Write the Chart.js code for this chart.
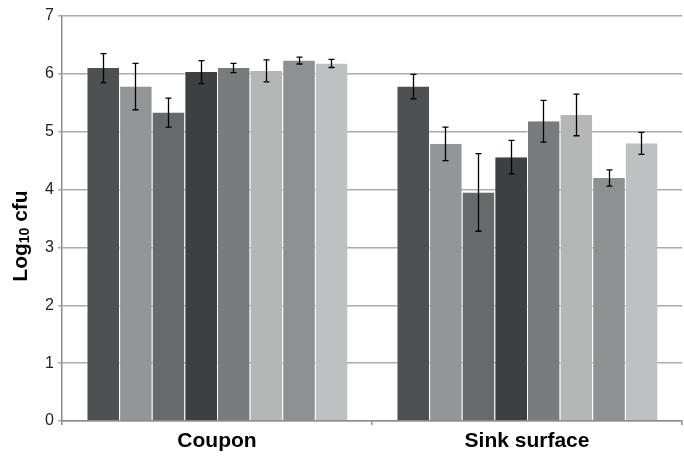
<!DOCTYPE html>
<html>
<head>
<meta charset="utf-8">
<script src="https://cdn.jsdelivr.net/npm/chart.js@4/dist/chart.umd.min.js"></script>
<style>
  html, body { margin: 0; padding: 0; background: #fff; }
  #wrap { width: 684px; height: 461px; position: relative; }
</style>
</head>
<body>
<div id="wrap"><canvas id="c" width="684" height="461"></canvas></div>
<script>
// ---- data ----
const categories = ["Coupon", "Sink surface"];
const seriesNames = ["Series 1", "Series 2", "Series 3", "Series 4", "Series 5", "Series 6", "Series 7", "Series 8"];
const s1 = [6.10, 5.78];
const s2 = [5.78, 4.79];
const s3 = [5.33, 3.95];
const s4 = [6.03, 4.56];
const s5 = [6.10, 5.18];
const s6 = [6.05, 5.29];
const s7 = [6.23, 4.20];
const s8 = [6.18, 4.80];
const e1 = [0.25, 0.21];
const e2 = [0.40, 0.29];
const e3 = [0.25, 0.67];
const e4 = [0.20, 0.29];
const e5 = [0.08, 0.36];
const e6 = [0.19, 0.36];
const e7 = [0.06, 0.14];
const e8 = [0.07, 0.19];
const yTicks = [0, 1, 2, 3, 4, 5, 6, 7];

const seriesValues = [s1, s2, s3, s4, s5, s6, s7, s8];
const seriesErrors = [e1, e2, e3, e4, e5, e6, e7, e8];
const colors = ["#4d5152", "#939696", "#676a6b", "#3d4043", "#797c7c", "#b5b7b6", "#8f9091", "#bec1c1"];

const FONT = "'Liberation Sans', Arial, Helvetica, sans-serif";

const errorBarPlugin = {
  id: 'errorBars',
  afterDatasetsDraw(chart) {
    const ctx = chart.ctx;
    const y = chart.scales.y;
    ctx.save();
    ctx.strokeStyle = '#000';
    ctx.lineWidth = 1.3;
    chart.data.datasets.forEach((ds, di) => {
      const meta = chart.getDatasetMeta(di);
      meta.data.forEach((bar, i) => {
        const v = ds.data[i];
        const e = seriesErrors[di][i];
        const x = Math.round(bar.x) + 0.5;
        const yt = y.getPixelForValue(v + e);
        const yb = y.getPixelForValue(v - e);
        ctx.beginPath();
        ctx.moveTo(x, yt); ctx.lineTo(x, yb);
        ctx.moveTo(x - 3, yt); ctx.lineTo(x + 3, yt);
        ctx.moveTo(x - 3, yb); ctx.lineTo(x + 3, yb);
        ctx.stroke();
      });
    });
    ctx.restore();
  }
};

const yTitlePlugin = {
  id: 'yTitle',
  afterDraw(chart) {
    const ctx = chart.ctx;
    const big = "bold 21px " + FONT;
    const small = "bold 14px " + FONT;
    const p1 = "Log", p2 = "10", p3 = " cfu";
    ctx.save();
    ctx.font = big; const w1 = ctx.measureText(p1).width; const w3 = ctx.measureText(p3).width;
    ctx.font = small; const w2 = ctx.measureText(p2).width;
    const total = w1 + w2 + w3;
    const cy = 236;
    ctx.translate(21, cy);
    ctx.rotate(-Math.PI / 2);
    ctx.fillStyle = '#000';
    ctx.textBaseline = 'middle';
    ctx.textAlign = 'left';
    let x = -total / 2;
    ctx.font = big; ctx.fillText(p1, x, 0); x += w1;
    ctx.font = small; ctx.fillText(p2, x, 4); x += w2;
    ctx.font = big; ctx.fillText(p3, x, 0);
    ctx.restore();
  }
};

new Chart(document.getElementById('c'), {
  type: 'bar',
  data: {
    labels: categories,
    datasets: seriesValues.map((vals, i) => ({
      label: seriesNames[i],
      data: vals,
      backgroundColor: colors[i],
      borderColor: 'rgba(255,255,255,0.55)',
      borderWidth: { left: 1, right: 0, top: 0, bottom: 0 },
      borderSkipped: false,
      categoryPercentage: 0.842,
      barPercentage: 1.0
    }))
  },
  options: {
    responsive: false,
    animation: false,
    devicePixelRatio: 1,
    layout: { padding: { top: 16, right: 2, left: 0, bottom: 0 } },
    plugins: {
      legend: { display: false },
      tooltip: { enabled: false },
      title: { display: false }
    },
    scales: {
      x: {
        grid: { display: true, offset: true, drawOnChartArea: false, drawTicks: true, tickLength: 4, color: '#8c8c8c', lineWidth: 1.5 },
        border: { display: true, color: '#8c8c8c', width: 1.5 },
        ticks: { color: '#000', font: { family: FONT, size: 21, weight: 'bold' }, padding: 4, maxRotation: 0 },
        afterFit(scale) { scale.height = 40; }
      },
      y: {
        min: 0, max: 7,
        afterBuildTicks(scale) { scale.ticks = yTicks.map(v => ({ value: v })); },
        grid: { color: '#ababab', lineWidth: 1.5, tickLength: 4, drawTicks: true },
        border: { display: true, color: '#8c8c8c', width: 1.5 },
        ticks: { color: '#222', font: { family: FONT, size: 16 }, padding: 4 },
        afterFit(scale) { scale.width = 62; }
      }
    }
  },
  plugins: [errorBarPlugin, yTitlePlugin]
});
</script>
</body>
</html>
